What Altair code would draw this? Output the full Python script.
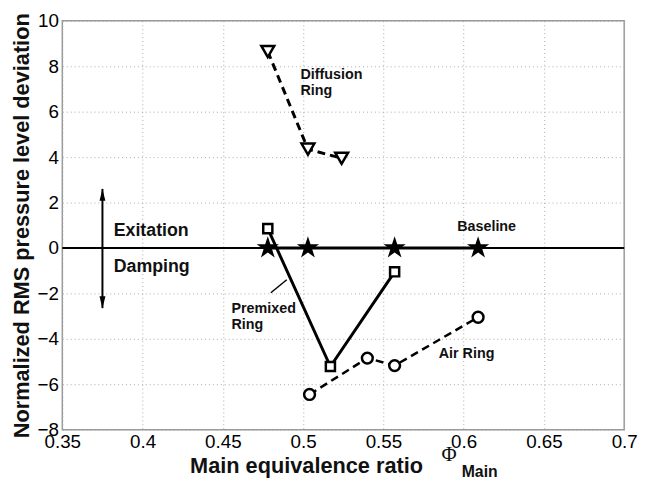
import altair as alt
import pandas as pd

# ---- data ----
diff_x = [0.478, 0.503, 0.524]
diff_y = [8.65, 4.35, 3.95]
base_x = [0.478, 0.503, 0.557, 0.609]
base_y = [0.0, 0.0, 0.0, 0.0]
prem_x = [0.478, 0.517, 0.557]
prem_y = [0.85, -5.22, -1.05]
air_x = [0.504, 0.540, 0.557, 0.609]
air_y = [-6.45, -4.85, -5.18, -3.05]

x_ticks = [0.35, 0.4, 0.45, 0.5, 0.55, 0.6, 0.65, 0.7]
y_ticks = [-8, -6, -4, -2, 0, 2, 4, 6, 8, 10]

arrow_x = [0.375, 0.375]
arrow_y = [-2.65, 2.6]

big_labels = ["Exitation", "Damping"]
big_x = [0.382, 0.382]
big_y = [0.73, -0.84]

small_labels = ["Diffusion", "Ring", "Baseline", "Premixed", "Ring", "Air Ring"]
small_x = [0.4984, 0.4984, 0.596, 0.4554, 0.4554, 0.5845]
small_y = [7.61, 6.89, 0.90, -2.68, -3.40, -4.67]

leader_x = [0.4799, 0.4898]
leader_y = [-1.97, -1.40]

FONT = "Liberation Sans"

STAR = ("M0,-1L0.2245,-0.309L0.951,-0.309L0.363,0.118L0.588,0.809L0,0.382"
        "L-0.588,0.809L-0.363,0.118L-0.951,-0.309L-0.2245,-0.309Z")
HEAD_UP = "M0,0L-0.25,1L0.25,1Z"
HEAD_DN = "M0,0L-0.25,-1L0.25,-1Z"

df_diff = pd.DataFrame({"x": diff_x, "y": diff_y})
df_base = pd.DataFrame({"x": base_x, "y": base_y})
df_prem = pd.DataFrame({"x": prem_x, "y": prem_y})
df_air = pd.DataFrame({"x": air_x, "y": air_y})

xs = alt.Scale(domain=[0.35, 0.7], nice=False, zero=False)
ys = alt.Scale(domain=[-8, 10], nice=False, zero=False)

X = alt.X("x:Q", scale=xs,
          axis=alt.Axis(values=x_ticks, format=".2~f", title=None,
                        labelFontSize=19, labelPadding=3, ticks=False, labelFlush=False,
                        domain=False, gridDash=[1, 3], gridColor="#aaaaaa",
                        labelColor="black", labelFont=FONT))
Y = alt.Y("y:Q", scale=ys,
          axis=alt.Axis(values=y_ticks, format="d",
                        title="Normalized RMS pressure level deviation",
                        titleFontSize=22, titleFontWeight="bold", titleFont=FONT,
                        titlePadding=4, titleColor="#111",
                        labelFontSize=19, labelPadding=4, ticks=False, labelFlush=False,
                        domain=False, gridDash=[1, 3], gridColor="#aaaaaa",
                        labelColor="black", labelFont=FONT))

zero = alt.Chart(pd.DataFrame({"y": [0.0]})).mark_rule(color="black", strokeWidth=2).encode(y=Y)

base_line = alt.Chart(df_base).mark_line(color="black", strokeWidth=3).encode(x=X, y=Y)
diff_line = alt.Chart(df_diff).mark_line(color="black", strokeWidth=3, strokeDash=[8, 5]).encode(x=X, y=Y)
prem_line = alt.Chart(df_prem).mark_line(color="black", strokeWidth=3).encode(x=X, y=Y)
air_line = alt.Chart(df_air).mark_line(color="black", strokeWidth=2.5, strokeDash=[8, 5]).encode(x=X, y=Y)

base_pts = alt.Chart(df_base).mark_point(shape=STAR, filled=True, color="black", size=560, opacity=1).encode(x=X, y=Y)
diff_pts = alt.Chart(df_diff).mark_point(shape="triangle-down", fill="white", stroke="black", strokeWidth=2.5, size=170, opacity=1).encode(x=X, y=Y)
prem_pts = alt.Chart(df_prem).mark_point(shape="square", fill="white", stroke="black", strokeWidth=2.5, size=85, opacity=1).encode(x=X, y=Y)
air_pts = alt.Chart(df_air).mark_point(shape="circle", fill="white", stroke="black", strokeWidth=2.5, size=120, opacity=1).encode(x=X, y=Y)

df_arrow = pd.DataFrame({"x": [arrow_x[0]], "y": [arrow_y[0]], "y2": [arrow_y[1]]})
arrow_shaft = alt.Chart(df_arrow).mark_rule(color="black", strokeWidth=2).encode(x=X, y=Y, y2="y2:Q")
arrow_up = alt.Chart(pd.DataFrame({"x": [arrow_x[1]], "y": [arrow_y[1]]})).mark_point(
    shape=HEAD_UP, filled=True, color="black", size=576, opacity=1).encode(x=X, y=Y)
arrow_dn = alt.Chart(pd.DataFrame({"x": [arrow_x[0]], "y": [arrow_y[0]]})).mark_point(
    shape=HEAD_DN, filled=True, color="black", size=576, opacity=1).encode(x=X, y=Y)

df_big = pd.DataFrame({"x": big_x, "y": big_y, "t": big_labels})
big_text = alt.Chart(df_big).mark_text(align="left", baseline="middle", fontSize=18,
                                       fontWeight="bold", font=FONT, color="#111").encode(
    x=X, y=Y, text="t:N")
df_small = pd.DataFrame({"x": small_x, "y": small_y, "t": small_labels})
small_text = alt.Chart(df_small).mark_text(align="left", baseline="middle", fontSize=14.5,
                                           fontWeight="bold", font=FONT, color="#111").encode(
    x=X, y=Y, text="t:N")

df_leader = pd.DataFrame({"x": [leader_x[0]], "y": [leader_y[0]], "x2": [leader_x[1]], "y2": [leader_y[1]]})
leader = alt.Chart(df_leader).mark_rule(color="black", strokeWidth=1.5).encode(
    x=X, y=Y, x2="x2:Q", y2="y2:Q")

title_main = alt.Chart(pd.DataFrame({"x": [0.4296], "y": [-9.62], "t": ["Main equivalence ratio"]})).mark_text(
    align="left", baseline="middle", fontSize=22, fontWeight="bold", font=FONT, color="#111").encode(
    x=X, y=Y, text="t:N")
title_phi = alt.Chart(pd.DataFrame({"x": [0.5862], "y": [-9.12], "t": ["\u03a6"]})).mark_text(
    align="left", baseline="middle", fontSize=21, font="Liberation Serif", color="#111").encode(
    x=X, y=Y, text="t:N")
title_sub = alt.Chart(pd.DataFrame({"x": [0.5988], "y": [-9.88], "t": ["Main"]})).mark_text(
    align="left", baseline="middle", fontSize=16, fontWeight="bold", font=FONT, color="#111").encode(
    x=X, y=Y, text="t:N")

chart = alt.layer(
    zero, base_line, diff_line, prem_line, air_line,
    arrow_shaft, arrow_up, arrow_dn, leader,
    base_pts, diff_pts, prem_pts, air_pts,
    big_text, small_text, title_main, title_phi, title_sub,
).properties(
    width=569, height=414,
    autosize=alt.AutoSizeParams(type="none"),
    padding={"left": 55, "top": 10, "right": 15, "bottom": 50},
    background="white",
).configure_view(stroke="#999999", strokeWidth=1.5)

chart.save("out.html", embed_options={"renderer": "svg", "actions": False})
